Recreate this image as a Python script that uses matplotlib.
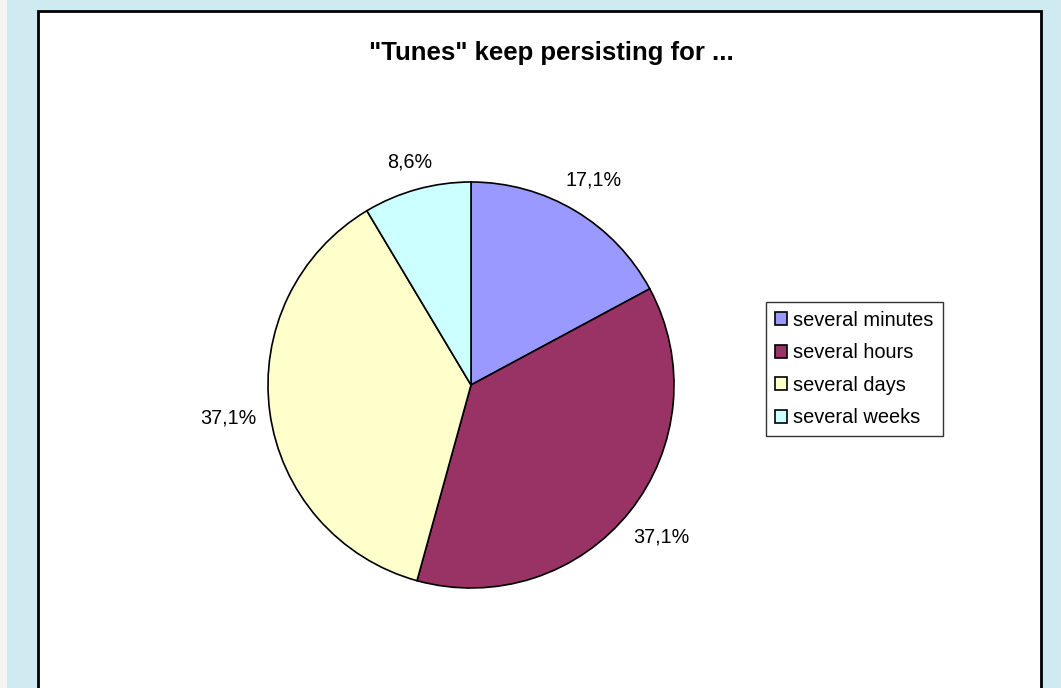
import numpy as np
import matplotlib
matplotlib.use("Agg")
import matplotlib.pyplot as plt
from matplotlib.patches import Rectangle

plt.rcParams['font.family'] = ['Liberation Sans', 'DejaVu Sans']

# data (answers out of 35 respondents)
categories = ["several minutes", "several hours", "several days", "several weeks"]
counts = [6, 13, 13, 3]
colors = ["#9999FF", "#993366", "#FFFFCC", "#CCFFFF"]
title = '"Tunes" keep persisting for ...'

W, H = 1061, 688
fig = plt.figure(figsize=(W / 100, H / 100), dpi=100)
fig.patch.set_facecolor("#CFEBF1")

# light grey strip on the far left and white chart area with a black frame
fig.patches.append(Rectangle((0, 0), 7 / W, 1, transform=fig.transFigure,
                             facecolor="#F5F5F5", edgecolor="none", zorder=-2))
fig.patches.append(Rectangle((38 / W, -0.05), (1041 - 38) / W, 1.05 - 11 / H,
                             transform=fig.transFigure, facecolor="white",
                             edgecolor="black", linewidth=2, zorder=-1))

# pie centred at (471, 385) px with radius 203 px
cx, cy, r = 471, 385, 203
ax = fig.add_axes([(cx - r) / W, (H - cy - r) / H, 2 * r / W, 2 * r / H])
wedges, _ = ax.pie(
    counts, colors=colors, startangle=90, counterclock=False,
    wedgeprops=dict(edgecolor="black", linewidth=1.2))
ax.set_xlim(-1, 1)
ax.set_ylim(-1, 1)
ax.axis("off")

# Excel-style percentage labels: box sits just outside the rim
renderer = fig.canvas.get_renderer()
total = sum(counts)
gap = 13 / r
for w, c in zip(wedges, counts):
    theta = np.radians((w.theta1 + w.theta2) / 2)
    u = np.array([np.cos(theta), np.sin(theta)])
    t = ax.text(0, 0, f"{100 * c / total:.1f}%".replace(".", ","),
                ha="center", va="center", fontsize=14.2)
    bb = t.get_window_extent(renderer)
    hw, hh = bb.width / 2 / r, bb.height / 2 / r
    support = hw * abs(u[0]) + hh * abs(u[1])
    pos = (1 + gap + support) * u
    t.set_position(pos)

fig.text(551 / W, 1 - 53 / H, title, ha="center", va="center",
         fontsize=18.5, fontweight="bold")

leg = fig.legend(wedges, categories, loc="upper left",
                 bbox_to_anchor=(766 / W, 1 - 302 / H),
                 fontsize=14.4, frameon=True, fancybox=False,
                 handlelength=0.62, handleheight=0.62, handletextpad=0.3,
                 labelspacing=0.67, borderpad=0.45, borderaxespad=0)
leg.get_frame().set_edgecolor("black")
leg.get_frame().set_linewidth(1)
for h in leg.legend_handles:
    h.set_linewidth(1.2)
    h.set_edgecolor("black")

fig.savefig("out.png", dpi=100, facecolor=fig.get_facecolor())
